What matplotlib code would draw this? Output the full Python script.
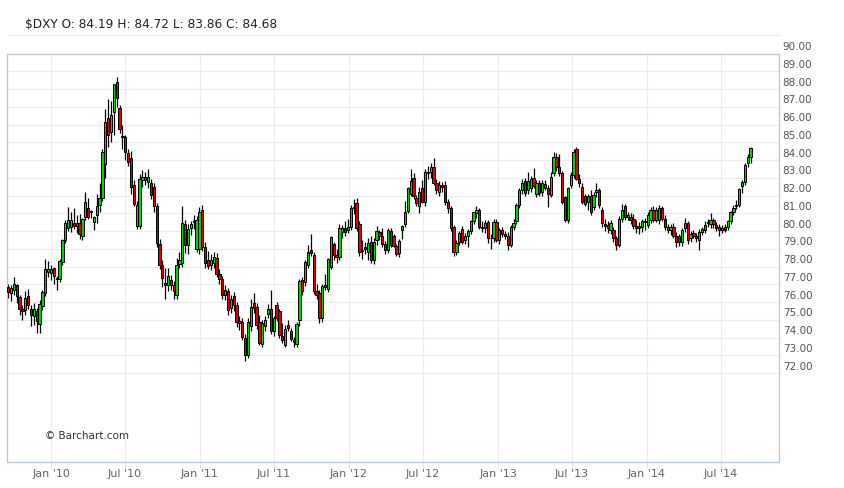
import matplotlib
matplotlib.use("Agg")
import matplotlib.pyplot as plt
import matplotlib.dates as mdates
import matplotlib.transforms as mtrans
from matplotlib.lines import Line2D
import numpy as np
import pandas as pd

# weekly $DXY candles, Sep 2009 - Sep 2014
opens = [
    76.85, 76.50, 76.70, 76.95, 76.30, 75.62, 75.55, 76.35, 75.60, 75.20,
    75.50, 74.75, 75.80, 76.50, 77.70, 77.65, 77.90, 77.30, 77.30, 78.25,
    79.50, 80.15, 80.25, 80.45, 80.30, 80.45, 79.75, 80.80, 81.30, 81.15,
    80.50, 80.90, 81.45, 81.85, 83.80, 86.35, 85.60, 86.70, 88.40, 86.95,
    85.35, 85.30, 84.40, 84.10, 82.60, 80.30, 80.30, 82.85, 83.05, 82.75,
    82.70, 82.50, 81.40, 79.30, 78.10, 77.10, 76.95, 77.25, 76.95, 76.40,
    78.15, 78.20, 80.40, 79.20, 80.15, 80.55, 79.00, 79.00, 81.20, 79.10,
    78.35, 78.10, 78.20, 78.50, 77.60, 77.30, 76.40, 76.65, 75.65, 76.35,
    75.85, 74.95, 74.90, 74.00, 73.00, 74.65, 75.95, 75.75, 74.90, 73.65,
    74.65, 75.35, 75.60, 74.35, 75.85, 75.50, 74.10, 73.60, 74.70, 74.35,
    73.85, 73.65, 75.00, 77.25, 77.15, 78.10, 78.95, 78.65, 76.60, 76.50,
    75.10, 76.85, 76.75, 78.00, 79.30, 78.65, 78.55, 79.95, 80.20, 80.05,
    80.25, 81.35, 81.60, 80.40, 78.95, 79.10, 78.85, 79.40, 78.35, 79.50,
    79.95, 79.75, 79.25, 78.95, 80.00, 79.70, 79.15, 78.75, 80.05, 80.40,
    81.15, 82.10, 83.00, 81.85, 81.40, 82.40, 81.65, 83.25, 83.30, 83.60,
    82.70, 82.20, 82.60, 82.60, 81.65, 81.30, 80.25, 78.85, 79.40, 80.10,
    79.50, 79.70, 80.00, 80.55, 81.00, 81.20, 80.25, 80.15, 80.50, 79.60,
    79.60, 80.50, 79.50, 80.05, 79.85, 79.75, 79.20, 80.25, 80.55, 81.45,
    82.30, 82.80, 82.30, 82.40, 83.00, 82.10, 82.70, 82.20, 82.65, 82.45,
    82.05, 83.25, 84.15, 83.60, 83.25, 81.90, 80.60, 82.60, 83.15, 84.60,
    82.95, 82.50, 81.95, 81.65, 81.95, 81.35, 82.20, 82.30, 81.20, 80.40,
    80.35, 80.05, 80.05, 79.60, 79.20, 80.70, 81.40, 80.80, 80.80, 80.70,
    80.30, 80.30, 80.25, 80.55, 80.35, 80.60, 81.20, 80.65, 80.65, 81.30,
    80.70, 80.25, 80.05, 80.25, 79.75, 79.70, 79.40, 80.15, 80.45, 79.60,
    79.90, 79.75, 79.50, 79.95, 80.05, 80.45, 80.40, 80.60, 80.35, 80.25,
    80.05, 80.25, 80.25, 80.55, 81.05, 81.40, 81.45, 82.55, 82.75, 83.85,
    84.19,
]
highs = [
    77.00, 76.95, 77.40, 77.05, 76.40, 75.85, 76.60, 76.75, 75.85, 75.95,
    75.65, 76.10, 76.70, 78.45, 78.30, 78.10, 78.00, 77.45, 78.45, 79.55,
    80.60, 81.35, 81.05, 81.30, 80.90, 80.95, 80.75, 82.20, 81.85, 81.20,
    80.85, 82.10, 82.70, 84.60, 86.90, 87.45, 87.35, 88.30, 88.70, 87.10,
    86.00, 85.40, 84.60, 84.50, 82.90, 81.70, 83.20, 83.45, 83.30, 83.50,
    82.95, 82.70, 81.60, 79.55, 78.40, 77.90, 77.90, 77.55, 77.20, 78.50,
    78.80, 81.40, 80.60, 80.40, 80.55, 80.90, 80.85, 81.35, 81.45, 79.40,
    78.90, 78.70, 78.85, 78.75, 77.85, 77.50, 76.95, 76.80, 76.40, 76.55,
    76.00, 75.20, 75.10, 74.20, 75.10, 76.20, 76.50, 75.95, 75.30, 75.00,
    75.20, 75.90, 76.70, 75.20, 76.00, 75.60, 74.80, 74.70, 75.00, 74.55,
    74.05, 74.90, 77.30, 77.40, 78.40, 79.20, 79.85, 78.80, 77.05, 76.70,
    77.05, 77.60, 78.50, 79.70, 79.40, 79.00, 80.40, 80.35, 80.55, 80.70,
    81.45, 81.80, 81.85, 80.55, 79.50, 79.40, 79.60, 79.70, 79.60, 80.30,
    80.05, 80.20, 79.45, 80.15, 80.15, 79.85, 79.30, 79.55, 80.35, 81.70,
    82.50, 83.50, 83.25, 82.05, 82.50, 82.90, 83.50, 83.65, 83.85, 84.10,
    82.95, 82.80, 82.75, 82.80, 81.80, 81.40, 80.35, 79.50, 80.00, 80.30,
    79.90, 80.10, 80.65, 81.10, 81.40, 81.30, 80.55, 80.60, 80.60, 79.85,
    80.70, 80.70, 80.15, 80.25, 80.00, 79.95, 80.35, 80.70, 81.60, 82.40,
    82.95, 83.00, 83.35, 83.10, 83.55, 82.85, 82.90, 82.90, 82.90, 82.60,
    83.35, 84.45, 84.40, 84.35, 83.40, 82.00, 82.50, 83.30, 84.65, 84.75,
    83.20, 82.70, 82.10, 82.10, 82.30, 82.20, 82.70, 82.45, 81.35, 80.70,
    80.55, 80.60, 80.25, 79.75, 80.85, 81.50, 81.50, 81.05, 81.00, 80.95,
    80.60, 80.50, 80.70, 80.75, 81.10, 81.35, 81.40, 81.35, 81.45, 81.40,
    80.90, 80.40, 80.40, 80.45, 79.95, 79.85, 80.20, 80.75, 80.55, 80.00,
    80.05, 79.90, 80.10, 80.25, 80.55, 80.70, 81.00, 80.75, 80.50, 80.40,
    80.35, 80.40, 80.65, 81.15, 81.45, 81.75, 82.45, 82.90, 83.85, 84.35,
    84.72,
]
lows = [
    76.25, 76.05, 76.40, 75.95, 75.25, 75.00, 75.30, 75.60, 74.65, 74.70,
    74.25, 74.25, 75.55, 76.35, 77.40, 77.25, 77.05, 76.70, 77.15, 78.10,
    79.35, 80.00, 79.95, 80.10, 79.90, 79.55, 79.50, 80.60, 80.70, 80.75,
    80.05, 80.45, 81.10, 81.70, 83.00, 84.75, 85.00, 85.40, 87.00, 85.50,
    84.60, 84.00, 83.65, 82.10, 81.40, 80.10, 80.10, 82.50, 82.60, 82.40,
    81.80, 81.05, 79.10, 77.85, 76.85, 76.20, 76.60, 76.70, 76.20, 76.20,
    77.90, 78.00, 78.75, 78.70, 79.80, 80.10, 78.80, 78.70, 78.90, 77.95,
    77.85, 77.80, 77.90, 77.40, 77.05, 76.20, 76.10, 75.25, 75.40, 75.50,
    74.60, 74.45, 73.85, 72.70, 72.85, 74.40, 75.40, 74.50, 73.60, 73.50,
    74.40, 75.10, 74.20, 74.10, 74.95, 74.00, 73.70, 73.45, 74.40, 73.80,
    73.50, 73.50, 74.65, 76.40, 76.90, 77.90, 78.60, 76.45, 76.20, 74.80,
    74.90, 76.70, 76.55, 77.85, 78.40, 78.20, 78.40, 79.60, 79.75, 79.90,
    80.05, 80.95, 80.00, 78.60, 78.45, 78.70, 78.40, 78.20, 78.15, 79.20,
    79.50, 79.10, 78.70, 78.75, 79.10, 79.10, 78.60, 78.55, 79.55, 80.25,
    81.00, 81.95, 81.80, 81.40, 81.00, 81.60, 81.40, 82.95, 83.00, 82.60,
    82.10, 81.95, 82.20, 81.45, 81.00, 80.00, 78.60, 78.65, 79.20, 79.30,
    79.25, 79.10, 79.85, 80.40, 80.75, 80.10, 79.95, 79.90, 79.35, 79.00,
    79.40, 79.40, 79.30, 79.65, 79.55, 78.95, 79.10, 80.05, 80.40, 81.30,
    82.10, 82.00, 82.10, 82.20, 82.40, 81.90, 82.00, 82.00, 82.30, 81.35,
    81.90, 83.10, 83.40, 83.10, 81.50, 80.50, 80.45, 82.40, 83.00, 82.85,
    82.50, 81.50, 81.40, 81.20, 80.90, 81.20, 81.90, 81.30, 80.25, 80.00,
    79.90, 79.85, 79.40, 78.95, 79.10, 80.50, 80.60, 80.60, 80.40, 80.10,
    79.90, 79.85, 79.95, 80.05, 80.15, 80.45, 80.50, 80.50, 80.40, 80.55,
    80.05, 79.90, 79.80, 79.60, 79.10, 79.15, 79.15, 79.95, 79.30, 79.40,
    79.60, 79.40, 78.95, 79.80, 79.90, 80.25, 80.20, 80.20, 80.00, 79.75,
    79.90, 79.95, 80.05, 80.40, 80.90, 81.25, 81.35, 82.15, 82.60, 83.60,
    83.86,
]
closes = [
    76.55, 76.80, 77.05, 76.35, 75.60, 75.52, 76.25, 75.85, 75.30, 75.60,
    74.95, 75.90, 76.55, 77.85, 77.85, 77.85, 77.45, 77.35, 78.30, 79.50,
    80.45, 80.65, 80.65, 80.30, 80.45, 79.85, 80.70, 81.65, 80.80, 81.10,
    80.80, 81.40, 81.85, 84.45, 86.15, 85.40, 86.55, 88.30, 87.50, 85.75,
    85.30, 84.45, 83.90, 82.50, 81.55, 81.45, 82.95, 83.05, 82.90, 83.05,
    82.05, 81.40, 79.35, 78.10, 77.35, 76.95, 77.45, 76.95, 76.60, 78.10,
    78.40, 80.45, 79.20, 80.10, 80.40, 80.50, 80.65, 81.05, 79.10, 78.20,
    78.05, 78.40, 78.55, 77.60, 77.30, 76.40, 76.70, 75.55, 76.15, 75.85,
    74.90, 74.85, 74.05, 73.05, 74.90, 75.75, 75.65, 74.70, 73.70, 74.85,
    75.00, 75.60, 74.35, 75.10, 75.10, 74.15, 73.85, 74.50, 74.55, 73.95,
    73.75, 74.75, 77.20, 76.60, 78.25, 78.85, 78.75, 76.60, 76.40, 75.10,
    76.90, 76.95, 78.45, 79.65, 78.65, 78.55, 80.15, 80.20, 79.95, 80.25,
    81.30, 81.30, 80.15, 78.80, 78.90, 79.00, 79.35, 78.35, 79.40, 80.00,
    79.75, 79.25, 78.95, 80.05, 79.20, 79.15, 78.70, 79.45, 80.30, 81.10,
    82.40, 82.80, 81.95, 81.60, 82.20, 81.65, 83.35, 83.35, 83.60, 82.70,
    82.30, 82.60, 82.50, 81.65, 81.30, 80.15, 78.85, 79.35, 79.90, 79.40,
    79.70, 80.00, 80.55, 81.05, 81.20, 80.25, 80.15, 80.45, 79.60, 79.60,
    80.50, 79.50, 80.05, 79.85, 79.75, 79.20, 80.25, 80.45, 81.45, 82.30,
    82.70, 82.15, 82.80, 82.95, 82.55, 82.70, 82.15, 82.70, 82.45, 82.10,
    83.05, 84.20, 83.60, 83.25, 81.65, 80.60, 82.40, 83.15, 84.45, 82.95,
    82.70, 81.65, 81.55, 81.95, 81.10, 82.05, 82.30, 81.45, 80.45, 80.30,
    80.15, 80.45, 79.60, 79.20, 80.70, 81.20, 80.80, 80.90, 80.60, 80.30,
    80.15, 80.20, 80.55, 80.50, 80.90, 81.20, 80.65, 81.20, 81.30, 80.70,
    80.25, 80.05, 80.25, 79.75, 79.40, 79.40, 80.05, 80.45, 79.50, 79.85,
    79.75, 79.60, 79.95, 80.10, 80.35, 80.50, 80.60, 80.40, 80.15, 80.05,
    80.20, 80.05, 80.55, 81.05, 81.30, 81.45, 82.35, 82.75, 83.75, 84.15,
    84.68,
]

tick_labels = ["Jan '10", "Jul '10", "Jan '11", "Jul '11", "Jan '12",
               "Jul '12", "Jan '13", "Jul '13", "Jan '14", "Jul '14"]
price_ticks = list(range(72, 91))
title = "$DXY O: 84.19 H: 84.72 L: 83.86 C: 84.68"

W, H = 845, 488
dates = pd.date_range("2009-09-18", periods=len(closes), freq="W-FRI")
x = mdates.date2num(dates)
o = np.array(opens)
c = np.array(closes)

fig = plt.figure(figsize=(W / 100, H / 100), dpi=100)
ax = fig.add_axes([7.5 / W, (H - 462) / H, (779 - 7.5) / W, (462 - 53.5) / H])

# wicks then bodies
ax.vlines(x, lows, highs, color="black", linewidth=0.9, zorder=2)
up = c >= o
body_lo = np.minimum(o, c)
body_h = np.maximum(np.abs(c - o), 0.04)
ax.bar(x, body_h, bottom=body_lo, width=5.6,
       color=np.where(up, "#00d400", "#e00000"),
       edgecolor="black", linewidth=0.7, zorder=3)

ax.set_ylim(67, 90)
x0 = mdates.date2num(pd.Timestamp("2010-01-01"))
ax.set_xlim(x0 - 43.5 / 0.4079, x0 + (779 - 51) / 0.4079)

tick_dates = pd.date_range("2010-01-01", periods=len(tick_labels), freq="6MS")
ax.set_xticks(mdates.date2num(tick_dates))
ax.set_xticklabels(tick_labels)
ax.tick_params(axis="x", length=4.3, width=0.8, color="#dfe5ec", pad=0.8,
               labelsize=8, labelcolor="#666666")
ax.set_yticks(price_ticks[:-1])
ax.tick_params(axis="y", length=0, labelleft=False)
ax.grid(True, color="#ececec", linewidth=0.8, zorder=0)
ax.set_axisbelow(True)

for side in ["left", "top", "right"]:
    ax.spines[side].set_color("#c4c4c4")
    ax.spines[side].set_linewidth(0.9)
ax.spines["bottom"].set_color("#b9cade")
ax.spines["bottom"].set_linewidth(1.0)

# price labels on the right, sitting just above their gridline
trans = mtrans.blended_transform_factory(ax.transAxes, ax.transData)
trans = mtrans.offset_copy(trans, fig=fig, x=3.7, y=6.5, units="dots")
for p in price_ticks:
    ax.text(1.0, p, f"{p:.2f}", transform=trans, ha="left", va="center",
            fontsize=7.5, color="#555555", clip_on=False)

fig.add_artist(Line2D([8 / W, 780 / W], [1 - 35 / H] * 2,
                      color="#ececec", linewidth=0.8))
fig.text(25 / W, 1 - 25 / H, title, ha="left", va="center",
         fontsize=8.7, color="#222222")
fig.text(45 / W, 1 - 436 / H, "© Barchart.com", ha="left", va="center",
         fontsize=7.5, color="#333333")

fig.savefig("out.png", dpi=100)
